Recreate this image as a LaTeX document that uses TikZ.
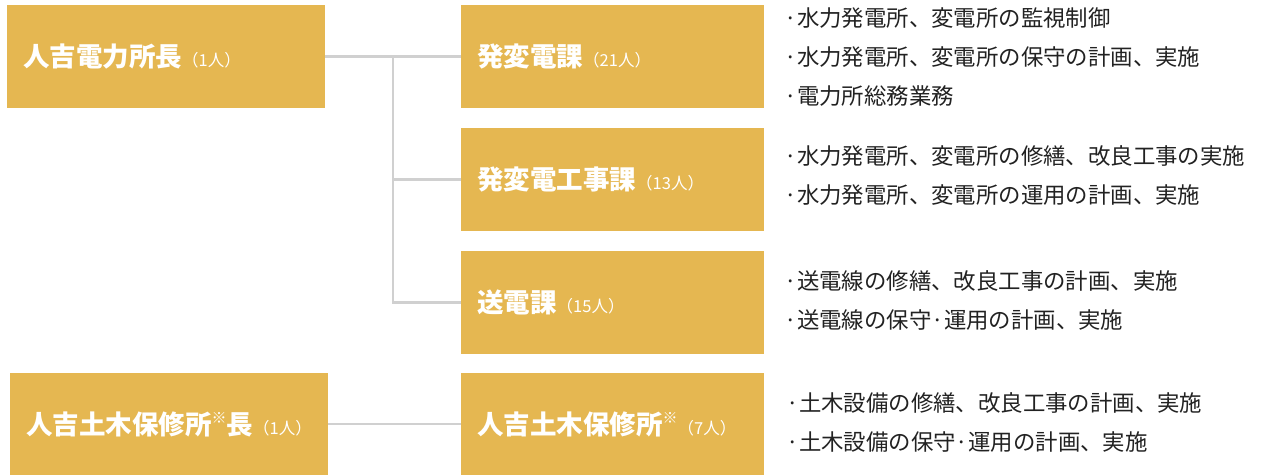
\documentclass[tikz,border=0pt]{standalone}
\usepackage{fontspec}
\newfontfamily\jpfont{Noto Sans CJK JP}
\usetikzlibrary{positioning}
\definecolor{boxgold}{RGB}{229,183,81}
\definecolor{linkgray}{RGB}{208,208,208}
\definecolor{notegray}{RGB}{34,34,34}
\newcommand{\heads}[1]{{\mdseries\fontsize{16.5}{16}\selectfont #1}}
\newcommand{\kome}{\raisebox{0.4em}{\mdseries\fontsize{15}{15}\selectfont ※}}

\begin{document}
\begin{tikzpicture}[x=1pt,y=-1pt,
	dept/.style={fill=boxgold, text=white, anchor=north west, inner xsep=16pt, inner ysep=0pt,
		minimum height=103pt, align=left, text width=#1,
		font=\jpfont\bfseries\fontsize{26.5}{27}\selectfont},
	note/.style={text=notegray, align=left, inner sep=0pt,
		font=\jpfont\fontsize{22.4}{39}\selectfont},
	link/.style={draw=linkgray, line width=2.5pt}]
		\useasboundingbox (0,0) rectangle (1261,475);

		\node[dept=286pt] (A) at (7,5) {人吉電力所長\heads{（1人）}};
		\node[dept=271pt] (B) at (461,5) {発変電課\heads{（21人）}};
		\node[dept=271pt] (C) at (461,128) {発変電工事課\heads{（13人）}};
		\node[dept=271pt] (D) at (461,251) {送電課\heads{（15人）}};
		\node[dept=286pt, minimum height=102pt] (E) at (10,373) {人吉土木保修所\kome 長\heads{（1人）}};
		\node[dept=271pt, minimum height=102pt] (F) at (461,373) {人吉土木保修所\kome\heads{（7人）}};

		\node[note, right=20pt of B] (Bnote) {·水力発電所、変電所の監視制御\\·水力発電所、変電所の保守の計画、実施\\·電力所総務業務};
		\node[note, right=20pt of C, yshift=4pt] (Cnote) {·水力発電所、変電所の修繕、改良工事の実施\\·水力発電所、変電所の運用の計画、実施};
		\node[note, right=20pt of D, yshift=2pt] (Dnote) {·送電線の修繕、改良工事の計画、実施\\·送電線の保守·運用の計画、実施};
		\node[note, right=22pt of F, yshift=2pt] (Fnote) {·土木設備の修繕、改良工事の計画、実施\\·土木設備の保守·運用の計画、実施};

		% connectors
		\coordinate (fork) at (393,56);
		\draw[link] (A.east) -- (B.west);
		\draw[link] (fork) |- (C.west);
		\draw[link] (fork) |- (D.west);
		\draw[link] (E.east) -- (F.west);
	\end{tikzpicture}
\end{document}
